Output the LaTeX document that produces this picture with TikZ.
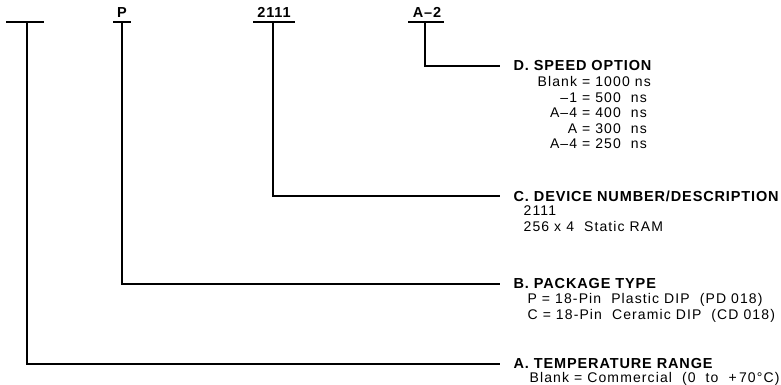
\documentclass[tikz,border=0pt]{standalone}
\usepackage{fontspec}
\setmainfont{Liberation Sans}
\newfontfamily\hfont[LetterSpace=6]{Liberation Sans}
\newfontfamily\rfont[LetterSpace=8]{Liberation Sans}
\begin{document}
\begin{tikzpicture}[x=1pt,y=-1pt, line width=1.3pt,
  code/.style={inner sep=0pt, anchor=base, font=\fontsize{14.5}{16}\hfont\bfseries},
  head/.style={anchor=west, inner xsep=13pt, inner ysep=0pt, font=\fontsize{14.5}{16}\hfont\bfseries},
  sub/.style={anchor=north west, inner sep=0pt, align=left, font=\fontsize{14}{15.6}\rfont}]
\useasboundingbox (0,0) rectangle (781,385);
% code texts
\node[code] (cP) at (122,18) {P};
\node[code] (cN) at (274,18) {2111};
\node[code] (cS) at (427,18) {A–2};
% bars
\coordinate (aL) at (6,22);   \coordinate (aR) at (44,22);  \coordinate (aV) at (27,22);
\coordinate (pL) at (113,22); \coordinate (pR) at (131,22); \coordinate (pV) at (122,22);
\coordinate (nL) at (253,22); \coordinate (nR) at (295,22); \coordinate (nV) at (273,22);
\coordinate (sL) at (408,22); \coordinate (sR) at (444,22); \coordinate (sV) at (425,22);
\draw (aL) -- (aR);
\draw (pL) -- (pR);
\draw (nL) -- (nR);
\draw (sL) -- (sR);
% headings
\node[head] (hD) at (500,66)  {D. SPEED OPTION};
\node[head] (hC) at (500,196) {C. DEVICE NUMBER/DESCRIPTION};
\node[head] (hB) at (500,284) {B. PACKAGE TYPE};
\node[head] (hA) at (500,364) {A. TEMPERATURE RANGE};
% connectors
\draw (sV) |- (hD.west);
\draw (nV) |- (hC.west);
\draw (pV) |- (hB.west);
\draw (aV) |- (hA.west);
% sub texts
\node[sub] (tD) at (537,75) {\def\arraystretch{1}\begin{tabular}{@{}r@{ = }l@{}}
Blank & 1000 ns\\
–1 & 500\ \ ns\\
A–4 & 400\ \ ns\\
A & 300\ \ ns\\
A–4 & 250\ \ ns
\end{tabular}};
\node[sub] (tC) at (523,205) {2111\\256 x 4\ \ Static\ RAM};
\node[sub] (tB) at (527,293) {P = 18-Pin\ \ Plastic\ DIP\ \ (PD\ 018)\\C = 18-Pin\ \ Ceramic\ DIP\ \ (CD\ 018)};
\node[sub] (tA) at (529,372) {Blank = Commercial\ \ (0\ \ to\ \ +\,70°C)};
\end{tikzpicture}
\end{document}
